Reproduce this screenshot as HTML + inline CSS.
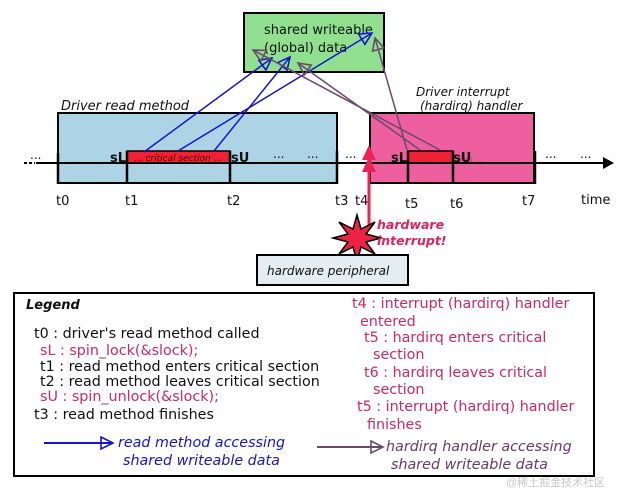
<!DOCTYPE html>
<html><head><meta charset="utf-8"><style>
html,body{margin:0;padding:0;background:#fff;}
svg{display:block;font-family:"DejaVu Sans","Liberation Sans",sans-serif;}
</style></head><body>
<svg width="627" height="490" viewBox="0 0 627 490" xmlns="http://www.w3.org/2000/svg">
<defs>
<marker id="ab" markerWidth="16" markerHeight="14" refX="13" refY="7" orient="auto" markerUnits="userSpaceOnUse"><path d="M1,1 L13,7 L1,13 Z" fill="none" stroke="#1515d0" stroke-width="1.6"/></marker>
<marker id="ap" markerWidth="16" markerHeight="14" refX="13" refY="7" orient="auto" markerUnits="userSpaceOnUse"><path d="M1,1 L13,7 L1,13 Z" fill="none" stroke="#6a4a6a" stroke-width="1.6"/></marker>
</defs>
<rect x="244" y="13" width="140" height="59" fill="#90e090" stroke="#000" stroke-width="2"/>
<text x="264" y="34" font-size="13" fill="#111">shared writeable</text>
<text x="264" y="52" font-size="13" fill="#111">(global) data</text>
<text x="61" y="110" font-size="13" font-style="italic" fill="#111">Driver read method</text>
<rect x="58" y="113" width="279" height="70" fill="#add4e4" stroke="#000" stroke-width="2"/>
<text x="416" y="96" font-size="12" font-style="italic" fill="#111">Driver interrupt</text>
<text x="420" y="110" font-size="12" font-style="italic" fill="#111">(hardirq) handler</text>
<rect x="370" y="113" width="164" height="70" fill="#ee5fa0" stroke="#000" stroke-width="2"/>
<rect x="127" y="151" width="103" height="12" fill="#ee2233" stroke="#000" stroke-width="1.5"/>
<text x="134" y="161" font-size="9" font-style="italic" fill="#400">... critical section ...</text>
<rect x="408" y="151" width="45" height="12" fill="#ee2233" stroke="#000" stroke-width="1.5"/>
<text x="410" y="161" font-size="8" fill="#c03040">... c · · · · ·</text>
<text x="457" y="162" font-size="8" fill="#a04070">tion ...</text>
<line x1="24" y1="163" x2="35" y2="163" stroke="#000" stroke-width="2" stroke-dasharray="3,2"/>
<line x1="36" y1="163" x2="605" y2="163" stroke="#000" stroke-width="2"/>
<path d="M603,157 L614,163 L603,169 Z" fill="#000"/>
<g stroke="#000" stroke-width="2.5">
<line x1="58" y1="153" x2="58" y2="184"/><line x1="127" y1="151" x2="127" y2="184"/>
<line x1="230" y1="151" x2="230" y2="184"/><line x1="337" y1="151" x2="337" y2="184"/>
<line x1="408" y1="151" x2="408" y2="184"/><line x1="453" y1="151" x2="453" y2="184"/>
<line x1="535" y1="151" x2="535" y2="184"/>
</g>
<g font-size="13" font-weight="bold" fill="#111">
<text x="110" y="162">sL</text><text x="231" y="162">sU</text>
<text x="391" y="162">sL</text><text x="453" y="162">sU</text>
</g>
<g font-size="12" fill="#111">
<text x="30" y="159">...</text><text x="273" y="158">...</text><text x="307" y="158">...</text>
<text x="345" y="158">...</text><text x="545" y="158">...</text><text x="580" y="158">...</text>
</g>
<g font-size="13" fill="#111">
<text x="56" y="205">t0</text><text x="125" y="205">t1</text><text x="227" y="205">t2</text>
<text x="335" y="205">t3</text><text x="355" y="205">t4</text><text x="405" y="208">t5</text>
<text x="450" y="208">t6</text><text x="522" y="205">t7</text><text x="581" y="204">time</text>
</g>
<g stroke="#1515d0" stroke-width="1.5" fill="none" marker-end="url(#ab)">
<line x1="144" y1="152" x2="272" y2="58"/>
<line x1="178" y1="151" x2="372" y2="33"/>
<line x1="214" y1="151" x2="290" y2="57"/>
</g>
<g stroke="#6a4a6a" stroke-width="1.5" fill="none" marker-end="url(#ap)">
<line x1="440" y1="150" x2="253" y2="50"/>
<line x1="420" y1="150" x2="298" y2="63"/>
<line x1="407" y1="150" x2="375" y2="38"/>
</g>
<line x1="369" y1="228" x2="369" y2="158" stroke="#ee2255" stroke-width="3"/>
<path d="M362,160 L369,145 L376,160 Z" fill="#ee2255"/>
<path d="M362,172 L369,157 L376,172 Z" fill="#ee2255"/>
<path d="M357,215 L361,229 L375,222 L366,234 L381,238 L366,242 L375,254 L361,247 L357,262 L353,247 L339,254 L348,242 L333,238 L348,234 L339,222 L353,229 Z" fill="#ee2244" stroke="#000" stroke-width="1.5"/>
<text x="377" y="229" font-size="12.5" font-weight="bold" font-style="italic" fill="#e8205a">hardware</text>
<text x="377" y="245" font-size="12.5" font-weight="bold" font-style="italic" fill="#e8205a">interrupt!</text>
<rect x="257" y="255" width="151" height="30" fill="#e4eef2" stroke="#000" stroke-width="2"/>
<text x="267" y="275" font-size="12" font-style="italic" fill="#111">hardware peripheral</text>
<rect x="14" y="293" width="580" height="183" fill="#fff" stroke="#000" stroke-width="2"/>
<text x="26" y="309" font-size="13" font-weight="bold" font-style="italic" fill="#111">Legend</text>
<g font-size="14.3">
<text x="34" y="338" fill="#111">t0 : driver's read method called</text>
<text x="40" y="355" fill="#d02860">sL : spin_lock(&amp;slock);</text>
<text x="40" y="371" fill="#111">t1 : read method enters critical section</text>
<text x="40" y="386" fill="#111">t2 : read method leaves critical section</text>
<text x="40" y="401" fill="#d02860">sU : spin_unlock(&amp;slock);</text>
<text x="34" y="419" fill="#111">t3 : read method finishes</text>
<text x="352" y="308" fill="#d02860">t4 : interrupt (hardirq) handler</text>
<text x="360" y="326" fill="#d02860">entered</text>
<text x="364" y="342" fill="#d02860">t5 : hardirq enters critical</text>
<text x="373" y="359" fill="#d02860">section</text>
<text x="364" y="377" fill="#d02860">t6 : hardirq leaves critical</text>
<text x="373" y="394" fill="#d02860">section</text>
<text x="357" y="411" fill="#d02860">t5 : interrupt (hardirq) handler</text>
<text x="367" y="429" fill="#d02860">finishes</text>
</g>
<line x1="44" y1="443" x2="113" y2="443" stroke="#1515d0" stroke-width="2" marker-end="url(#ab)"/>
<text x="118" y="447" font-size="14.3" font-style="italic" fill="#1515d0">read method accessing</text>
<text x="123" y="465" font-size="14.3" font-style="italic" fill="#1515d0">shared writeable data</text>
<line x1="317" y1="447" x2="383" y2="447" stroke="#6a4a6a" stroke-width="2" marker-end="url(#ap)"/>
<text x="386" y="451" font-size="14.3" font-style="italic" fill="#6a3a6a">hardirq handler accessing</text>
<text x="391" y="469" font-size="14.3" font-style="italic" fill="#6a3a6a">shared writeable data</text>
<text x="506" y="486" font-size="11" fill="#c8c8c8" font-family="'Liberation Sans','Noto Sans CJK SC',sans-serif">@稀土掘金技术社区</text>
</svg>
</body></html>
